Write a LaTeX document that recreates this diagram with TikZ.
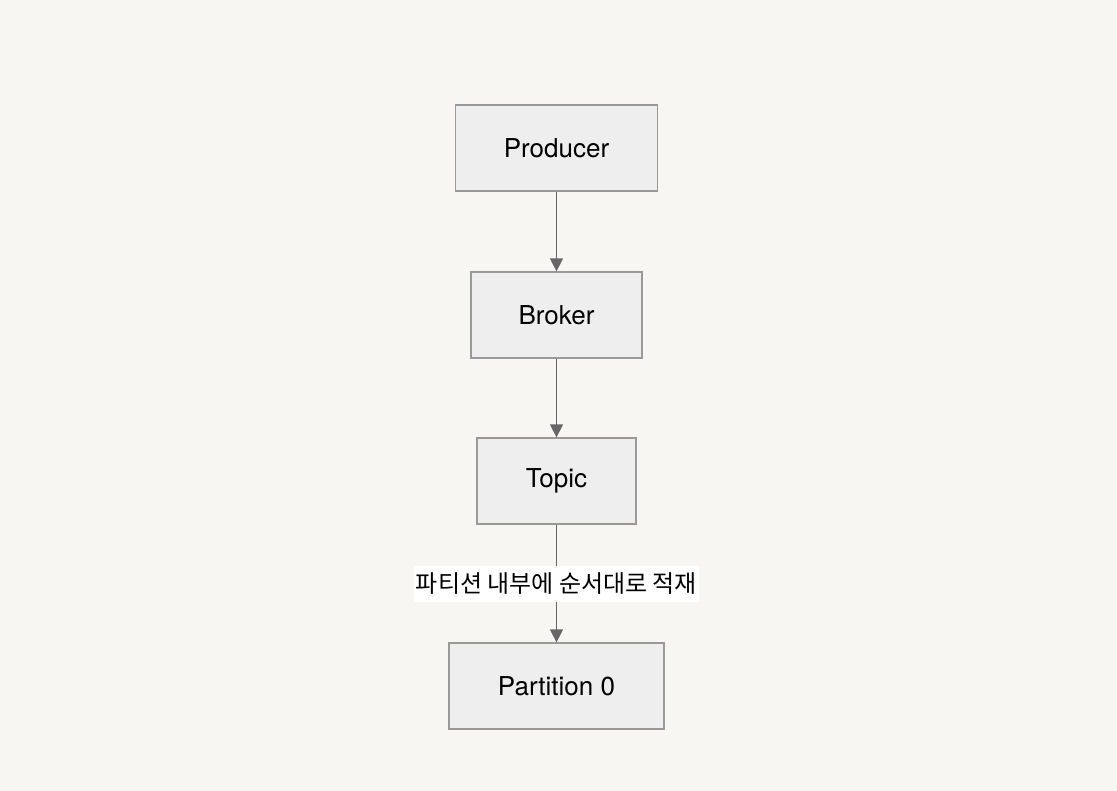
\documentclass[tikz,border=0pt]{standalone}
\usepackage{fontspec}
\setmainfont{TeX Gyre Heros}
\newfontfamily\krfont{Noto Sans CJK KR}
\usepackage{tikz}
\usetikzlibrary{positioning,arrows.meta}
\definecolor{bgcolor}{RGB}{247,246,243}
\definecolor{boxfill}{RGB}{238,238,238}
\definecolor{boxline}{RGB}{153,153,153}
\definecolor{linkcolor}{RGB}{102,102,102}
\tikzset{
  flow box/.style={
    rectangle,
    draw=boxline,
    fill=boxfill,
    line width=1.3pt,
    minimum height=86pt,
    inner sep=0pt,
    font=\fontsize{26}{30}\selectfont
  },
  flow link/.style={
    -{Triangle[length=13pt,width=13pt]},
    draw=linkcolor,
    line width=1.5pt
  },
  link label/.style={
    fill=white,
    inner xsep=2pt,
    minimum height=36pt,
    font=\krfont\fontsize{24}{28}\selectfont
  }
}
\begin{document}
\begin{tikzpicture}[x=1pt,y=-1pt]
  % canvas
  \fill[bgcolor] (0,0) rectangle (1117,791);
  \useasboundingbox (0,0) rectangle (1117,791);

  % boxes
  \node[flow box, minimum width=202pt] (producer) at (556.5,148) {Producer};
  \node[flow box, minimum width=171pt] (broker) at (556.5,315) {Broker};
  \node[flow box, minimum width=159pt] (topic) at (556.5,481) {Topic};
  \node[flow box, minimum width=215pt] (part0) at (556.5,686) {Partition 0};

  % links
  \draw[flow link] (producer) -- (broker);
  \draw[flow link] (broker) -- (topic);
  \draw[flow link] (topic) -- node[link label] {파티션 내부에 순서대로 적재} (part0);
\end{tikzpicture}
\end{document}
